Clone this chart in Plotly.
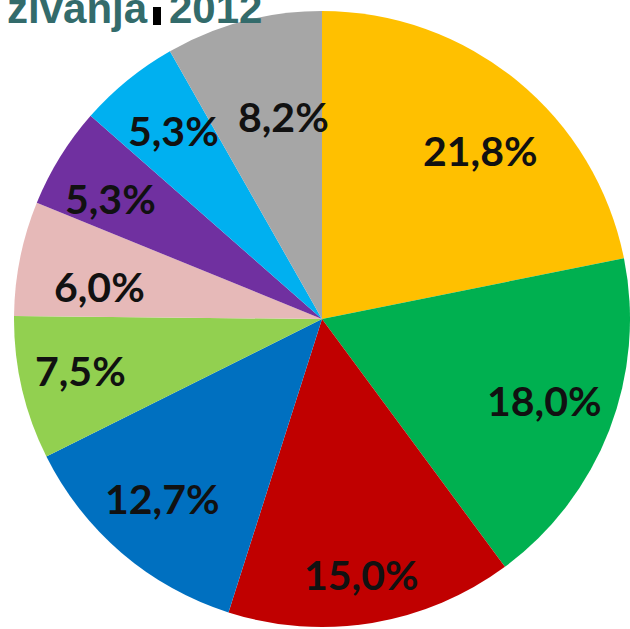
import math
import plotly.graph_objects as go

categories = ["A", "B", "C", "D", "E", "F", "G", "H", "I"]
values = [21.8, 18.0, 15.0, 12.7, 7.5, 6.0, 5.3, 5.3, 8.2]
labels = [f"{v:.1f}%".replace(".", ",") for v in values]
colors = ["#FFC000", "#00B050", "#C00000", "#0070C0", "#92D050",
          "#E6B9B8", "#7030A0", "#00B0F0", "#A6A6A6"]
title_text = "zivanja"
title_year = "2012"

# label placement (style): radial fraction and angular nudge per slice
label_rfrac = [0.75, 0.77, 0.84, 0.78, 0.80, 0.73, 0.79, 0.78, 0.67]
label_nudge = [4, -1, 0.5, 1, 1, -3, -2, 1, 4]

W, H = 630, 629
cx, cy, r = 322, 319, 308

fig = go.Figure(go.Pie(
    labels=categories,
    values=values,
    textinfo="none",
    sort=False,
    direction="clockwise",
    rotation=0,
    marker=dict(colors=colors, line=dict(width=0)),
    hoverinfo="skip",
    showlegend=False,
    domain=dict(x=[(cx - r) / W, min(1, (cx + r) / W)],
                y=[(H - cy - r) / H, (H - cy + r) / H]),
))

total = sum(values)
cum = 0.0
for v, lab, rf, nd in zip(values, labels, label_rfrac, label_nudge):
    mid = (cum + v / 2) / total * 360 + nd
    cum += v
    a = math.radians(mid)
    px = cx + rf * r * math.sin(a)
    py = cy - rf * r * math.cos(a)
    fig.add_annotation(
        x=px / W, y=1 - py / H, xref="paper", yref="paper",
        xanchor="center", yanchor="middle",
        text=f"<b>{lab}</b>", showarrow=False,
        font=dict(family="Lato", size=41, color="#111111"),
    )

title_font = dict(family="Arial", size=42, color="#336B6B")
fig.add_annotation(
    x=150 / W, y=1 - 34 / H, xref="paper", yref="paper",
    xanchor="right", yanchor="bottom",
    text=f"<b>{title_text}</b>", showarrow=False, font=title_font,
)
fig.add_annotation(
    x=167 / W, y=1 - 34 / H, xref="paper", yref="paper",
    xanchor="left", yanchor="bottom",
    text=f"<b>{title_year}</b>", showarrow=False, font=title_font,
)
fig.add_shape(type="rect", xref="paper", yref="paper",
              x0=153 / W, x1=161 / W, y0=1 - 25 / H, y1=1 - 7 / H,
              fillcolor="#000000", line=dict(width=0))

fig.update_layout(
    width=W, height=H,
    margin=dict(l=0, r=0, t=0, b=0),
    paper_bgcolor="white",
    plot_bgcolor="white",
)

fig.write_html("out.html",
               config={"displayModeBar": False, "staticPlot": True},
               post_script="document.body.style.margin='0';document.body.style.overflow='hidden';")
